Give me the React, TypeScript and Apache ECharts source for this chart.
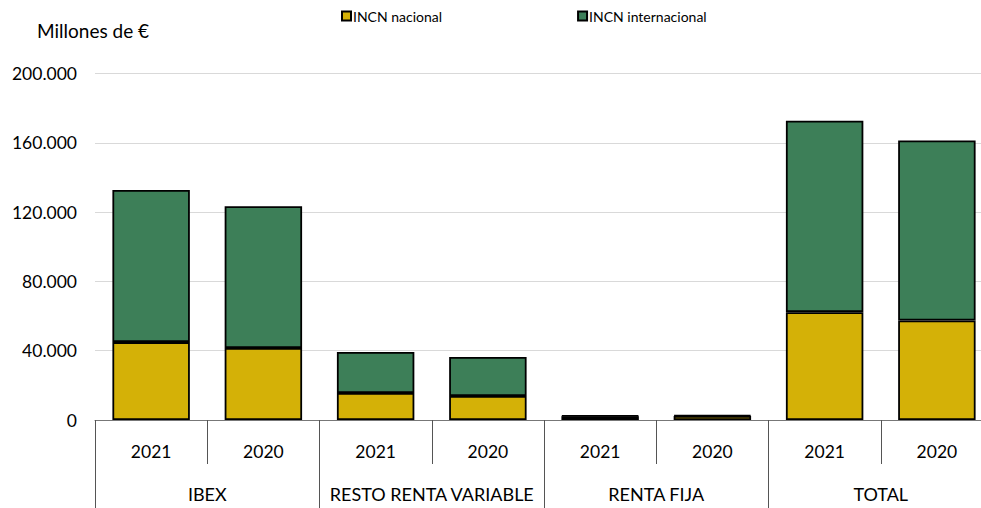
import React, { useEffect, useRef } from "react";
import * as echarts from "echarts";

const years = ["2021", "2020", "2021", "2020", "2021", "2020", "2021", "2020"];
const groups = ["IBEX", "RESTO RENTA VARIABLE", "RENTA FIJA", "TOTAL"];
const nacional = [45000, 41600, 15600, 13900, 2100, 2300, 62300, 57500];
const internacional = [87800, 81900, 23650, 22500, 500, 500, 110500, 103900];
const seriesNames = ["INCN nacional", "INCN internacional"];
const yTicks = { min: 0, max: 200000, interval: 40000 };

const FONT = "Lato";

export default function App() {
  const ref = useRef<HTMLDivElement>(null);
  useEffect(() => {
    if (!ref.current) return;
    const chart = echarts.init(ref.current, undefined, { renderer: "svg" });
    const fmt = (v: number) => String(v).replace(/\B(?=(\d{3})+(?!\d))/g, ".");
    chart.setOption({
      animation: false,
      textStyle: { fontFamily: FONT },
      title: {
        text: "Millones de €",
        left: 32,
        top: 16,
        textStyle: { fontFamily: FONT, fontSize: 19, fontWeight: "normal", color: "#000" },
      },
      legend: {
        data: seriesNames,
        left: 336,
        top: 4,
        itemGap: 135,
        itemWidth: 9,
        itemHeight: 9,
        icon: "rect",
        textStyle: { fontFamily: FONT, fontSize: 14, color: "#000", padding: [0, 0, 0, -3] },
      },
      grid: { left: 95, width: 898, top: 73.7, bottom: 88, containLabel: false, outerBoundsMode: "none" },
      xAxis: [
        {
          type: "category",
          data: years,
          position: "bottom",
          axisLine: { lineStyle: { color: "#777", width: 1 } },
          axisTick: { show: true, interval: 0, length: 44, lineStyle: { color: "#555" } },
          axisLabel: { interval: 0, margin: 22, fontFamily: FONT, fontSize: 17.5, color: "#000" },
        },
        {
          type: "category",
          data: groups,
          position: "bottom",
          axisLine: { show: false },
          axisTick: { show: true, interval: 0, length: 92, lineStyle: { color: "#555" } },
          axisLabel: { interval: 0, margin: 65, fontFamily: FONT, fontSize: 18, color: "#000" },
        },
      ],
      yAxis: {
        type: "value",
        min: yTicks.min,
        max: yTicks.max,
        interval: yTicks.interval,
        axisLine: { show: false },
        axisTick: { show: false },
        splitLine: { lineStyle: { color: "#d9d9d9", width: 1 } },
        axisLabel: { margin: 18, fontFamily: FONT, fontSize: 17.5, color: "#000", formatter: fmt },
      },
      series: [
        {
          name: seriesNames[0],
          type: "bar",
          stack: "a",
          xAxisIndex: 0,
          data: nacional,
          barWidth: "69%",
          itemStyle: { color: "#d4b107", borderColor: "#000", borderWidth: 1.8 },
        },
        {
          name: seriesNames[1],
          type: "bar",
          stack: "a",
          xAxisIndex: 0,
          data: internacional,
          barWidth: "69%",
          itemStyle: { color: "#3d7f58", borderColor: "#000", borderWidth: 1.8 },
        },
      ],
    });
    return () => chart.dispose();
  }, []);
  return <div ref={ref} style={{ width: 981, height: 508, position: "absolute", left: 0, top: 0 }} />;
}
